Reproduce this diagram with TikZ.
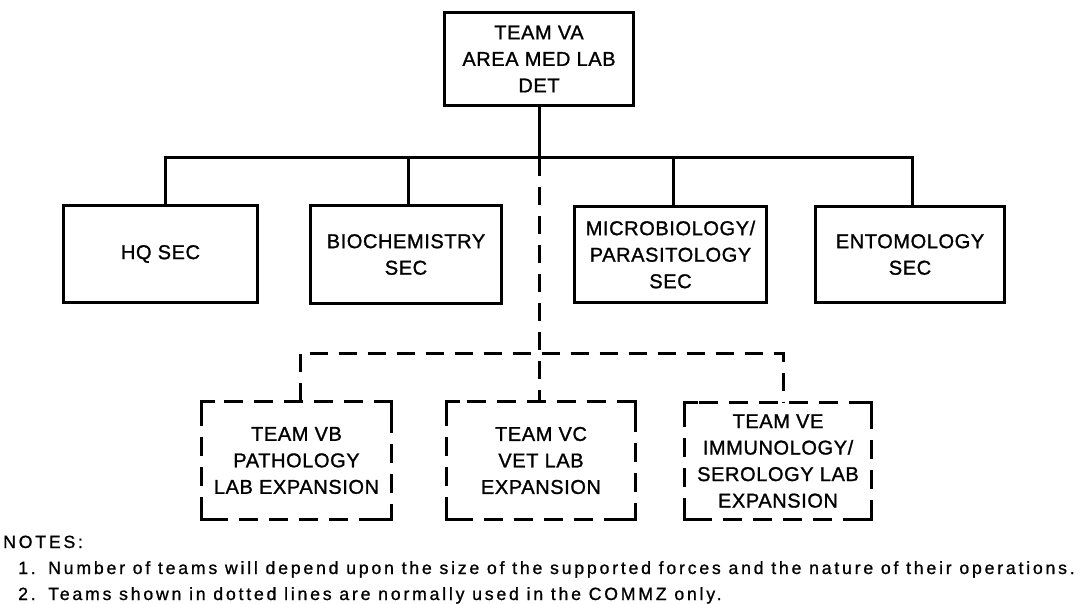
\documentclass[tikz,border=0pt]{standalone}
\usepackage{fontspec}
\setmainfont{Liberation Sans}
\newfontfamily\boxfont[LetterSpace=3,FakeBold=1.2]{Liberation Sans}
\newfontfamily\notefont[LetterSpace=15.7,FakeBold=1]{Liberation Sans}
\begin{document}
\begin{tikzpicture}[x=1pt,y=-1pt,
  boxtext/.style={align=center, inner sep=0pt,
    font=\boxfont\fontsize{20}{26.5}\selectfont},
  solidbox/.style={boxtext, draw, line width=3pt},
  dashbox/.style={boxtext},
  conn/.style={line width=3pt},
  dconn/.style={line width=3pt, dash pattern=on 18pt off 11pt},
  dline/.style={line width=3.2pt, dash pattern=on 19pt off 11pt, dash phase=-6pt},
  cornerline/.style={line width=3.2pt, line cap=rect},
  notetext/.style={anchor=base west, inner sep=0pt,
    font=\notefont\fontsize{17.7}{20}\selectfont},
]
\useasboundingbox (0,0) rectangle (1081,604);

% top box
\node[solidbox, minimum width=189pt, minimum height=93pt] (va) at (539,59) {TEAM VA\\AREA MED LAB\\DET};

% sections
\node[solidbox, minimum width=194pt, minimum height=97pt] (hq) at (160.5,254) {HQ SEC};
\node[solidbox, minimum width=191pt, minimum height=97pt] (bio) at (406,254.5) {BIOCHEMISTRY\\SEC};
\node[solidbox, minimum width=192pt, minimum height=96pt] (micro) at (670.5,254.5) {MICROBIOLOGY/\\PARASITOLOGY\\SEC};
\node[solidbox, minimum width=189pt, minimum height=96pt] (ento) at (910,254.5) {ENTOMOLOGY\\SEC};

% teams (dashed)
\node[dashbox, minimum width=190pt, minimum height=118pt] (vb) at (296.5,460.5) {TEAM VB\\PATHOLOGY\\LAB EXPANSION};
\node[dashbox, minimum width=189pt, minimum height=118pt] (vc) at (541,460.5) {TEAM VC\\VET LAB\\EXPANSION};
\node[dashbox, minimum width=187pt, minimum height=117pt] (ve) at (778,461) {TEAM VE\\IMMUNOLOGY/\\SEROLOGY LAB\\EXPANSION};

\foreach \n in {vb,vc,ve}{
  \draw[dline] (\n.north west) rectangle (\n.south east);
  \draw[cornerline] ([yshift=-12pt]\n.north west) -- (\n.north west) -- ([xshift=12pt]\n.north west);
  \draw[cornerline] ([yshift=-12pt]\n.north east) -- (\n.north east) -- ([xshift=-12pt]\n.north east);
  \draw[cornerline] ([yshift=12pt]\n.south west) -- (\n.south west) -- ([xshift=12pt]\n.south west);
  \draw[cornerline] ([yshift=12pt]\n.south east) -- (\n.south east) -- ([xshift=-12pt]\n.south east);
}

% solid connectors
\coordinate (j) at (539,158);
\coordinate (barL) at (165,158);
\coordinate (barR) at (912,158);
\coordinate (bioT) at (408,158);
\coordinate (microT) at (673,158);
\draw[conn] (va.south) -- (j);
\draw[conn, line cap=rect] (barL) -- (barR);
\draw[conn] (barL) -- (barL |- hq.north);
\draw[conn] (bioT) -- (bioT |- bio.north);
\draw[conn] (microT) -- (microT |- micro.north);
\draw[conn] (barR) -- (barR |- ento.north);

% dashed connectors
\coordinate (dj) at (539,353);
\coordinate (dl) at (300,353);
\coordinate (dr) at (783,353);
\draw[dconn] (j) -- (j |- vc.north);
\draw[dconn] (dl |- vb.north) -- (dl) -- (dr) -- (dr |- ve.north);

% notes
\node[notetext] (notes) at (3,548) {NOTES:};
\node[notetext] (n1) at (18,574) {1.};
\node[notetext] (t1) at (48,574) {Number of teams will depend upon the size of the supported forces and the nature of their operations.};
\node[notetext] (n2) at (18,600) {2.};
\node[notetext] (t2) at (48,600) {Teams shown in dotted lines are normally used in the COMMZ only.};
\end{tikzpicture}
\end{document}
